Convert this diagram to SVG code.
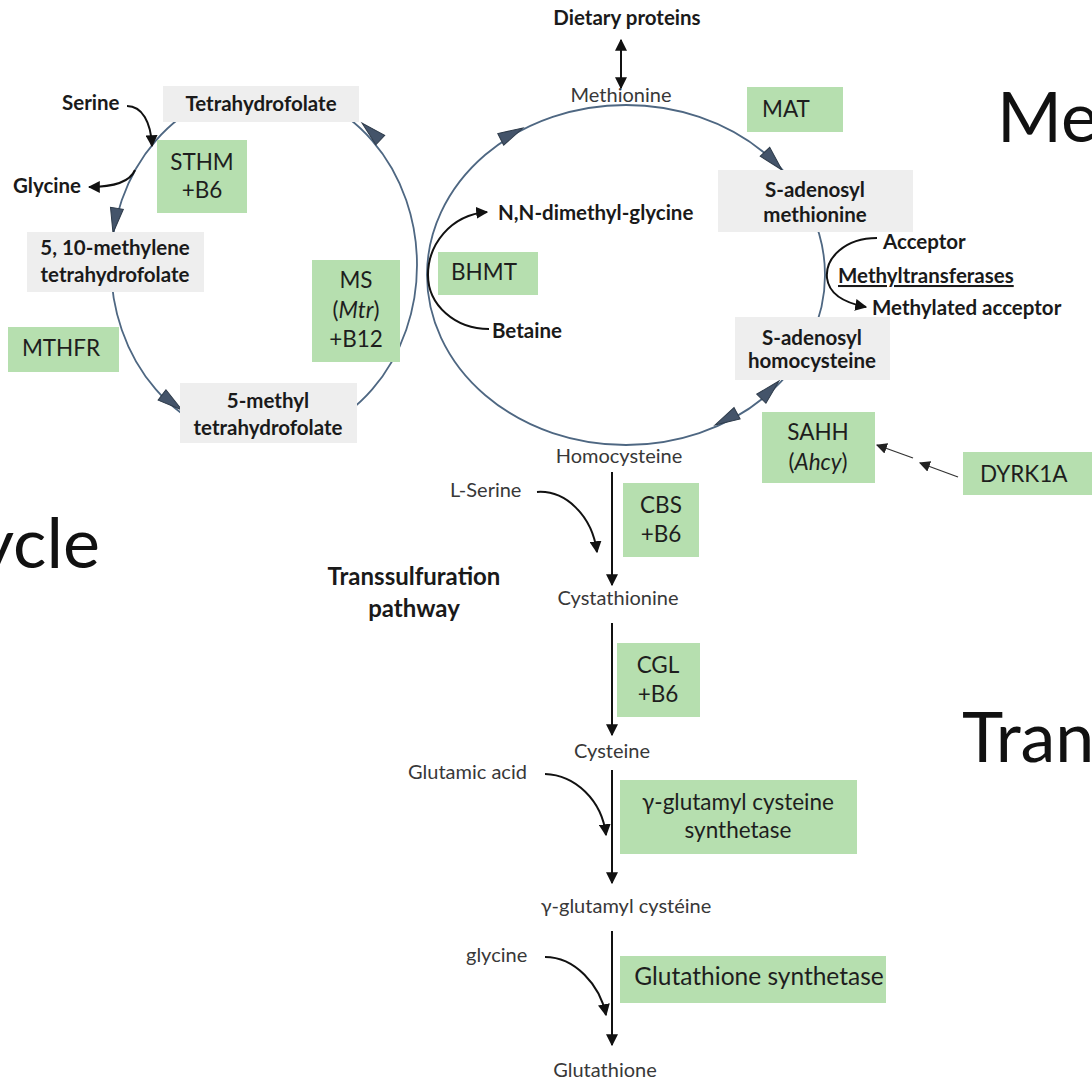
<svg xmlns="http://www.w3.org/2000/svg" width="1092" height="1085" viewBox="0 0 1092 1085">
<defs>
<style>
text{font-family:Lato,"Liberation Sans",sans-serif}
.b{font-weight:700;font-size:20.5px;fill:#1a1a1a}
.r{font-size:20px;fill:#383838}
.gt{font-size:22.5px;fill:#1e1e1e}
.big{font-size:70px;font-weight:400;fill:#111}
.grey{fill:#EEEEEE}
.green{fill:#B6DFAF}
.cyc{fill:none;stroke:#4E6782;stroke-width:1.8}
.blk{fill:none;stroke:#111;stroke-width:2}
.thin{fill:none;stroke:#333;stroke-width:1.3}
.ah{fill:#44546A;stroke:#2E3B4A;stroke-width:1}
</style>
<marker id="arr" viewBox="0 0 10 10" refX="9" refY="5" markerWidth="12" markerHeight="12" markerUnits="userSpaceOnUse" orient="auto-start-reverse"><path d="M0,0 L10,5 L0,10 z" fill="#111"/></marker>
<marker id="arrt" viewBox="0 0 10 10" refX="9" refY="5" markerWidth="11" markerHeight="11" markerUnits="userSpaceOnUse" orient="auto"><path d="M0,0 L10,5 L0,10 z" fill="#222"/></marker>
<path id="ah" d="M0,0 L-25,-6.5 L-25,6.5 Z"/>
</defs>
<rect width="1092" height="1085" fill="#fff"/>

<g id="big-labels">
<text class="big" x="997" y="142">Me</text>
<text class="big" x="100" y="568" text-anchor="end">ycle</text>
<text class="big" x="962" y="762">Tran</text>
</g>

<g id="connectors">
<ellipse class="cyc" cx="264" cy="265" rx="153" ry="176"/>
<ellipse class="cyc" cx="626" cy="275" rx="199" ry="170"/>
<use href="#ah" class="ah" transform="translate(113,233) rotate(99)"/>
<use href="#ah" class="ah" transform="translate(182,410) rotate(37)"/>
<use href="#ah" class="ah" transform="translate(362,123) rotate(-137)"/>
<use href="#ah" class="ah" transform="translate(523,128) rotate(-27)"/>
<use href="#ah" class="ah" transform="translate(782,170) rotate(47)"/>
<use href="#ah" class="ah" transform="translate(779,381) rotate(-45)"/>
<use href="#ah" class="ah" transform="translate(715,425) rotate(152)"/>
<line class="blk" x1="621" y1="40" x2="621" y2="88" marker-start="url(#arr)" marker-end="url(#arr)"/>
<path class="blk" d="M127,106 C142,106 151,122 152,146" marker-end="url(#arr)"/>
<path class="blk" d="M135,170 C130,182 115,187 89,187" marker-end="url(#arr)"/>
<path class="blk" d="M489,329 C455,329 428,305 428,275 C428,245 450,215 487,212" marker-end="url(#arr)"/>
<path class="blk" d="M877,238 C845,238 825,258 827,278 C829,295 845,303 866,307" marker-end="url(#arr)"/>
<line class="blk" x1="612" y1="472" x2="612" y2="585" marker-end="url(#arr)"/>
<path class="blk" d="M537,492 C565,490 592,515 597,552" marker-end="url(#arr)"/>
<line class="blk" x1="612" y1="623" x2="612" y2="735" marker-end="url(#arr)"/>
<line class="blk" x1="612" y1="770" x2="612" y2="883" marker-end="url(#arr)"/>
<path class="blk" d="M545,774 C575,775 602,800 606,835" marker-end="url(#arr)"/>
<line class="blk" x1="612" y1="931" x2="612" y2="1045" marker-end="url(#arr)"/>
<path class="blk" d="M545,957 C575,957 600,985 606,1015" marker-end="url(#arr)"/>
<line class="thin" x1="958" y1="477" x2="920" y2="463" marker-end="url(#arrt)"/>
<line class="thin" x1="913" y1="458" x2="877" y2="445" marker-end="url(#arrt)"/>
</g>

<g id="dietary-proteins"><text class="b" x="627" y="25" text-anchor="middle">Dietary proteins</text></g>
<g id="serine"><text class="b" x="62" y="110">Serine</text></g>
<g id="glycine-folate"><text class="b" x="13" y="193">Glycine</text></g>
<g id="thf"><rect class="grey" x="163" y="86" width="196" height="36"/><text class="b" x="261" y="111" text-anchor="middle">Tetrahydrofolate</text></g>
<g id="methylene-thf"><rect class="grey" x="27" y="232" width="177" height="60"/><text class="b" x="115" y="255" text-anchor="middle">5, 10-methylene</text><text class="b" x="115" y="282" text-anchor="middle">tetrahydrofolate</text></g>
<g id="methyl-thf"><rect class="grey" x="180" y="383" width="177" height="60"/><text class="b" x="268" y="408" text-anchor="middle">5-methyl</text><text class="b" x="268" y="435" text-anchor="middle">tetrahydrofolate</text></g>
<g id="sthm"><rect class="green" x="157" y="140" width="90" height="73"/><text class="gt" x="202" y="170" text-anchor="middle">STHM</text><text class="gt" x="202" y="198" text-anchor="middle">+B6</text></g>
<g id="mthfr"><rect class="green" x="8" y="327" width="111" height="45"/><text class="gt" x="61" y="356" text-anchor="middle">MTHFR</text></g>
<g id="ms"><rect class="green" x="312" y="260" width="88" height="102"/><text class="gt" x="356" y="288" text-anchor="middle">MS</text><text class="gt" x="356" y="318" text-anchor="middle">(<tspan font-style="italic">Mtr</tspan>)</text><text class="gt" x="356" y="347" text-anchor="middle">+B12</text></g>
<g id="methionine"><text class="r" x="621" y="102" text-anchor="middle">Methionine</text></g>
<g id="mat"><rect class="green" x="747" y="87" width="96" height="45"/><text class="gt" x="762" y="117">MAT</text></g>
<g id="nn-dmg"><text class="b" x="498" y="220">N,N-dimethyl-glycine</text></g>
<g id="bhmt"><rect class="green" x="438" y="252" width="100" height="43"/><text class="gt" x="484" y="280" text-anchor="middle">BHMT</text></g>
<g id="betaine"><text class="b" x="492" y="338">Betaine</text></g>
<g id="sam"><rect class="grey" x="718" y="170" width="195" height="62"/><text class="b" x="815" y="197" text-anchor="middle">S-adenosyl</text><text class="b" x="815" y="222" text-anchor="middle">methionine</text></g>
<g id="acceptor"><text class="b" x="883" y="249">Acceptor</text></g>
<g id="methyltransferases"><text class="b" x="838" y="283" text-decoration="underline">Methyltransferases</text></g>
<g id="methylated-acceptor"><text class="b" x="872" y="315">Methylated acceptor</text></g>
<g id="sah"><rect class="grey" x="735" y="317" width="155" height="63"/><text class="b" x="812" y="345" text-anchor="middle">S-adenosyl</text><text class="b" x="812" y="368" text-anchor="middle">homocysteine</text></g>
<g id="sahh"><rect class="green" x="762" y="412" width="113" height="71"/><text class="gt" x="818" y="440" text-anchor="middle">SAHH</text><text class="gt" x="818" y="470" text-anchor="middle">(<tspan font-style="italic">Ahcy</tspan>)</text></g>
<g id="dyrk1a"><rect class="green" x="963" y="452" width="135" height="43"/><text class="gt" x="980" y="482">DYRK1A</text></g>
<g id="homocysteine"><text class="r" x="619" y="463" text-anchor="middle">Homocysteine</text></g>
<g id="l-serine"><text class="r" x="450" y="497">L-Serine</text></g>
<g id="cbs"><rect class="green" x="623" y="483" width="76" height="74"/><text class="gt" x="661" y="513" text-anchor="middle">CBS</text><text class="gt" x="661" y="542" text-anchor="middle">+B6</text></g>
<g id="transsulfuration"><text class="b" x="414" y="585" text-anchor="middle" style="font-size:24px">Transsulfuration</text><text class="b" x="414" y="617" text-anchor="middle" style="font-size:24px">pathway</text></g>
<g id="cystathionine"><text class="r" x="618" y="605" text-anchor="middle">Cystathionine</text></g>
<g id="cgl"><rect class="green" x="617" y="643" width="83" height="74"/><text class="gt" x="658" y="673" text-anchor="middle">CGL</text><text class="gt" x="658" y="702" text-anchor="middle">+B6</text></g>
<g id="cysteine"><text class="r" x="612" y="758" text-anchor="middle">Cysteine</text></g>
<g id="glutamic-acid"><text class="r" x="408" y="779">Glutamic acid</text></g>
<g id="gcs"><rect class="green" x="620" y="780" width="237" height="74"/><text class="gt" x="738" y="810" text-anchor="middle">γ-glutamyl cysteine</text><text class="gt" x="738" y="838" text-anchor="middle">synthetase</text></g>
<g id="g-glutamylcysteine"><text class="r" x="626" y="913" text-anchor="middle">γ-glutamyl cystéine</text></g>
<g id="glycine"><text class="r" x="466" y="962">glycine</text></g>
<g id="gs"><rect class="green" x="620" y="956" width="266" height="47"/><text class="gt" x="759" y="985" text-anchor="middle" style="font-size:24.5px">Glutathione synthetase</text></g>
<g id="glutathione"><text class="r" x="605" y="1077" text-anchor="middle">Glutathione</text></g>
</svg>
